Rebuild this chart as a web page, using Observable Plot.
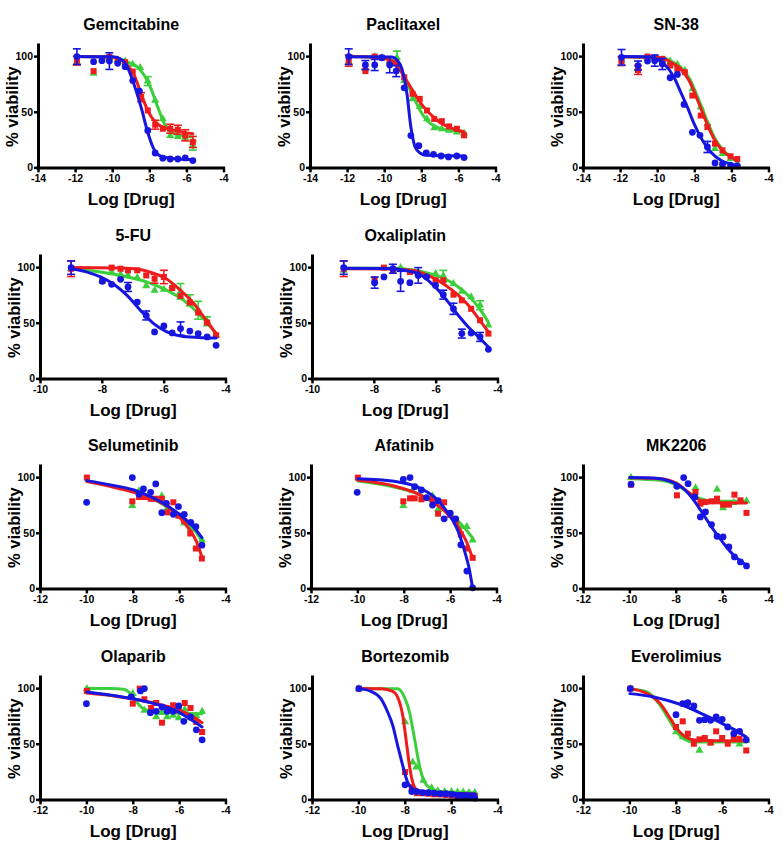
<!DOCTYPE html>
<html><head><meta charset="utf-8">
<script src="https://cdn.jsdelivr.net/npm/d3@7"></script>
<script src="https://cdn.jsdelivr.net/npm/@observablehq/plot@0.6"></script>
<style>
html,body{margin:0;padding:0;background:#fff;}
#chart{position:relative;width:783px;height:848px;overflow:hidden;background:#fff;}
#chart svg{position:absolute;overflow:visible;}
</style></head>
<body><div id="chart"></div>
<script>
// ---------- tick labels ----------
const ticks14 = [-14, -12, -10, -8, -6, -4];
const ticks10 = [-10, -8, -6, -4];
const ticks12 = [-12, -10, -8, -6, -4];
const yTicks = [0, 50, 100];

// ---------- data: [logDose, %viability, sd] ----------
const gemBlue = [[-11.93,100,7],[-11.03,95.5,2],[-10.58,96.4,3],[-10.18,96,7.5],[-9.73,94,2],[-9.33,91,2],[-8.92,78.5,2],[-8.56,69,2],[-8.11,33.7,2],[-7.71,13.4,3],[-7.3,8.7,3],[-6.9,8,2],[-6.49,8,2],[-6.09,9,2],[-5.68,6.6,2]];
const gemRed = [[-11.93,96.4,4],[-11.03,87,3],[-10.18,100,3],[-9.73,97,2],[-9.33,95,2],[-8.92,86.6,3],[-8.47,63.6,4],[-8.11,51.6,3],[-7.71,38.8,4],[-7.3,35.2,3],[-6.9,35.2,4],[-6.49,34.3,4],[-6.09,29.3,5],[-5.68,23.3,5]];
const gemGreen = [[-11.93,95,3],[-11.03,85,3],[-10.18,99,3],[-9.73,97,2],[-9.33,96,2],[-8.92,93,2],[-8.52,90,3],[-8.11,78,4],[-7.71,60.6,3],[-7.3,44,3],[-6.9,29,3],[-6.49,28,3],[-6.09,27,3],[-5.68,20,4]];
const gemBlueFit = [[-12,100],[-10,99.8],[-9.5,97],[-9.19,90],[-8.83,74],[-8.47,54.6],[-8.11,32],[-7.84,19],[-7.57,12],[-7.2,9.5],[-6.5,8],[-5.68,7.5]];
const gemRedFit = [[-12,100],[-10,99.5],[-9.5,96.5],[-9.19,92],[-8.83,83],[-8.47,66.6],[-8.11,51.6],[-7.75,42],[-7.39,37.3],[-6.67,33.7],[-5.68,30.7]];
const gemGreenFit = [[-12,100],[-10,99.5],[-9.19,95],[-8.65,90.4],[-8.29,83],[-7.93,71],[-7.57,54.6],[-7.21,39.7],[-6.85,32],[-6.3,29],[-5.68,27.8]];

const pacBlue = [[-11.94,100,7],[-11.04,92.5,4],[-10.54,92.5,5],[-10.15,99,2],[-9.73,92.5,7],[-9.38,87,5],[-8.95,72,3],[-8.59,29,3],[-8.16,20,2],[-7.76,13.4,2],[-7.37,12.2,2],[-6.96,10.7,2],[-6.56,9.9,2],[-6.11,10.7,2],[-5.72,9.3,2]];
const pacRed = [[-11.94,96.4,5],[-11.04,87,2],[-10.54,100,2],[-10.15,99,2],[-9.73,95,2],[-9.38,94,3],[-8.95,81.5,3],[-8.5,66.6,3],[-8.11,62,2],[-7.72,51.6,2],[-7.33,44,2],[-6.92,42,2],[-6.53,37.3,2],[-6.11,35.2,2],[-5.72,29.3,3]];
const pacGreen = [[-11.94,95,3],[-11.04,89,2],[-10.54,100,2],[-10.15,99,2],[-9.73,96,2],[-9.34,99,6],[-8.95,78.5,3],[-8.5,62,2],[-8.11,55,2],[-7.72,44,2],[-7.33,36,2],[-6.92,35,2],[-6.53,33.7,2],[-6.11,32.2,2],[-5.72,31.3,2]];
const pacBlueFit = [[-12,100],[-9.6,99.7],[-9.34,97],[-9.07,89],[-8.8,66.6],[-8.59,36.7],[-8.36,18.8],[-8.1,13.4],[-7.73,11.3],[-5.72,10.7]];
const pacRedFit = [[-12,100],[-10.5,99.5],[-9.7,97],[-9.34,92],[-8.98,83],[-8.62,73],[-8.27,63.6],[-7.91,55],[-7.37,45.7],[-6.84,39],[-6.3,35.2],[-5.72,32.2]];
const pacGreenFit = [[-12,100],[-10.2,99.7],[-9.52,95.8],[-9.16,89],[-8.8,76],[-8.44,63.6],[-8.09,51.6],[-7.73,42.7],[-7.19,36.7],[-6.47,33.7],[-5.72,32.8]];

const snBlue = [[-11.95,99.4,7],[-11.06,92,4],[-10.55,96,2],[-10.16,96.4,5],[-9.75,93.4,5],[-9.33,81,2],[-8.94,84,2],[-8.58,57,2],[-8.13,32,2],[-7.72,29.3,2],[-7.32,18.8,5],[-6.91,4.5,2],[-6.51,3.3,2],[-6.07,2.4,2],[-5.71,1.8,2]];
const snRed = [[-11.95,96,4],[-11.06,88,4],[-10.55,100,3],[-10.16,99,2],[-9.75,98,2],[-9.33,92,2],[-8.94,89,2],[-8.54,86,2],[-8.13,65,2],[-7.68,47,3],[-7.32,36.7,3],[-6.91,21.8,2],[-6.51,15.8,2],[-6.07,10.4,2],[-5.71,8,2]];
const snGreen = [[-11.95,97,3],[-11.06,90,3],[-10.55,99,2],[-10.16,98,2],[-9.75,97,2],[-9.33,96,2],[-8.94,93,2],[-8.54,87.5,2],[-8.13,71,2],[-7.68,54.6,3],[-7.32,39.7,3],[-6.91,17.3,3],[-6.51,12.8,2],[-6.07,8.4,2],[-5.71,3.9,2]];
const snBlueFit = [[-12,100],[-10.5,99.8],[-10.19,98.8],[-9.65,93.4],[-9.12,81.5],[-8.76,68],[-8.4,54.6],[-8.04,39.7],[-7.59,24.8],[-7.14,14.3],[-6.6,6.9],[-5.71,2.4]];
const snRedFit = [[-12,100],[-9.8,99],[-9.3,95],[-8.76,89],[-8.31,78.5],[-7.95,65],[-7.59,50],[-7.23,35.2],[-6.87,23.3],[-6.42,14.3],[-5.71,6.9]];
const snGreenFit = [[-12,100],[-9.8,99.2],[-9.3,96],[-8.76,90.5],[-8.31,81],[-7.95,68],[-7.59,53],[-7.23,38],[-6.87,25],[-6.42,15],[-5.71,6]];

const fuBlue = [[-9.01,100,6],[-8,87.7,2],[-7.7,85,2],[-7.41,89.5,2],[-7.17,82.6,4],[-6.87,69,2],[-6.58,57,4],[-6.31,42.2,2],[-6.01,47.6,2],[-5.74,41.3,2],[-5.47,45.2,6],[-5.17,43,2],[-4.9,40.7,2],[-4.61,37.7,2],[-4.32,30.2,2]];
const fuRed = [[-9.01,99,7],[-8,88,2],[-7.7,100,2],[-7.41,99,2],[-7.17,97.6,2],[-6.87,97.6,2],[-6.58,93,2],[-6.31,90,4],[-6.01,91.6,6],[-5.74,81.7,2],[-5.47,74.6,3],[-5.17,68.6,3],[-4.9,59.6,3],[-4.61,50.6,2],[-4.32,39.2,3]];
const fuGreen = [[-9.01,99,3],[-8,88,2],[-7.7,96,2],[-7.41,94,2],[-7.17,93,2],[-6.87,91,2],[-6.58,83.5,2],[-6.31,79.6,2],[-6.01,80.5,2],[-5.74,83.5,2],[-5.47,78.7,7],[-5.17,70.6,5],[-4.9,61.7,8],[-4.61,51.8,4],[-4.32,39,3]];
const fuBlueFit = [[-9,99],[-8.49,96],[-8.06,91.6],[-7.63,85],[-7.2,75],[-6.77,61.7],[-6.34,49.7],[-5.91,42.2],[-5.47,38.6],[-4.9,37.3],[-4.32,36.8]];
const fuRedFit = [[-9,100],[-7.5,99.7],[-6.98,99],[-6.44,96],[-5.91,89.5],[-5.47,79.6],[-5.04,67.7],[-4.72,55.7],[-4.32,40.7]];
const fuGreenFit = [[-9,99],[-8.06,96],[-7.2,91.6],[-6.55,87],[-5.91,79.6],[-5.37,70.6],[-4.83,57],[-4.32,40.7]];

const oxBlue = [[-8.99,100,6],[-7.99,86.5,5],[-7.69,91.6,2],[-7.4,99,4],[-7.15,87.7,9],[-6.85,86.5,3],[-6.58,93,7],[-6.31,91.6,2],[-6.02,84,3],[-5.77,75.7,4],[-5.44,63,5],[-5.17,40.7,4],[-4.87,41.2,2],[-4.58,37.7,4],[-4.31,26.6,2]];
const oxRed = [[-8.99,99,7],[-7.99,89.5,2],[-7.69,100,3],[-7.4,97.6,2],[-6.85,96,2],[-6.58,94.6,2],[-6.02,88.6,2],[-5.77,88.6,3],[-5.44,75.7,2],[-5.17,70.6,2],[-4.87,63,2],[-4.58,52.7,3],[-4.31,40.7,3]];
const oxGreen = [[-8.99,97.6,3],[-7.99,88,2],[-7.15,100,2],[-6.58,96,2],[-6.02,94.6,2],[-5.77,92.5,5],[-5.44,85.6,2],[-5.17,78.7,2],[-4.87,73.6,2],[-4.58,66.2,4],[-4.31,48.2,3]];
const oxBlueFit = [[-9,99.5],[-7.5,99.2],[-7,97.5],[-6.58,94.6],[-6.26,88.6],[-5.93,79.6],[-5.61,69],[-5.28,57],[-4.96,46.7],[-4.63,37.7],[-4.31,28.7]];
const oxRedFit = [[-9,99],[-7.5,98.7],[-6.8,97.6],[-6.26,93],[-5.72,84.7],[-5.28,75],[-4.96,66.2],[-4.63,54.2],[-4.31,42.2]];
const oxGreenFit = [[-9,99.5],[-7.3,99.5],[-6.8,98],[-6.26,95],[-5.72,90],[-5.28,82.6],[-4.96,75],[-4.63,64.4],[-4.31,51]];

const selBlue = [[-10.01,77.8],[-8.04,100],[-7.75,85],[-7.56,89.8],[-7.25,86.8],[-7.03,94.3],[-6.77,68.5],[-6.57,76.9],[-6.27,67],[-6.05,73.9],[-5.8,67],[-5.52,59.8],[-5.3,55.9],[-5.04,39.3]];
const selRed = [[-10,100],[-8.04,78.7],[-7.75,82.6],[-7.5,82.6],[-7.25,81],[-7.03,81],[-6.77,81],[-6.52,68.8],[-6.27,77.8],[-6.05,65.8],[-5.8,61],[-5.54,49.8],[-5.3,36.3],[-5.04,27.3]];
const selGreen = [[-8.04,74.8],[-7.75,88],[-6.77,83.5],[-6.52,73],[-5.8,59],[-5.52,54.4],[-5.04,44]];
const selBlueFit = [[-10,97.3],[-8.97,93.4],[-7.97,88.9],[-7.25,82.9],[-6.53,74.8],[-5.8,63.4],[-5.37,55],[-5.04,46]];
const selRedFit = [[-10,96.4],[-8.97,91.9],[-7.97,86.8],[-7.25,82],[-6.53,73.9],[-6.1,66.4],[-5.67,55.9],[-5.3,43.8],[-5.04,28.8]];
const selGreenFit = [[-10,96.8],[-8.97,92.8],[-7.97,87.5],[-7.25,81.5],[-6.53,73.5],[-5.8,61.5],[-5.37,53],[-5.04,43]];

const afaBlue = [[-10.03,86.8],[-8.04,98.5],[-7.75,100],[-7.55,91.9],[-7.26,88.9],[-7.04,82],[-6.78,75.4],[-6.54,79.3],[-6.28,63],[-6.02,68],[-5.78,63],[-5.56,39.6],[-5.3,16],[-5.05,1]];
const afaRed = [[-10,100],[-8.04,78.7],[-7.75,81.4],[-7.55,81.4],[-7.26,80.5],[-6.78,80.5],[-6.54,67.6],[-6.28,77.8],[-6.02,66.4],[-5.78,60.4],[-5.56,49],[-5.3,36.3],[-5.05,27.9]];
const afaGreen = [[-8.04,74.8],[-7.65,88],[-6.78,83.5],[-6.54,71.5],[-5.56,55.9],[-5.3,55.9],[-5.05,43.8]];
const afaBlueFit = [[-10,99.1],[-8.44,96.7],[-7.43,91.6],[-6.71,82.6],[-6.14,69],[-5.7,53],[-5.41,34.8],[-5.2,18.3],[-5.05,0.3]];
const afaRedFit = [[-10,97.6],[-8.44,92.5],[-7.43,85.6],[-6.71,77.5],[-6.14,67.6],[-5.7,57],[-5.34,43.5],[-5.05,27.6]];
const afaGreenFit = [[-10,97],[-8.44,91.6],[-7.43,85.6],[-6.71,77.5],[-6.14,69],[-5.56,58.6],[-5.05,45.7]];

const mkBlue = [[-9.95,94],[-7.97,92.2],[-7.68,100],[-7.49,94.6],[-7.2,82.6],[-6.96,64.7],[-6.74,69.2],[-6.48,57.8],[-6.24,47.3],[-5.98,46.7],[-5.73,37.7],[-5.49,28.7],[-5.23,24.2],[-4.97,20.6]];
const mkRed = [[-9.95,93.7],[-7.97,84.1],[-7.17,87],[-6.96,76.6],[-6.74,78],[-6.48,78.7],[-6.24,81.1],[-5.98,75.7],[-5.73,75.7],[-5.49,84.7],[-5.23,79.6],[-4.97,68.3]];
const mkGreen = [[-9.95,100],[-7.97,93],[-7.17,90.7],[-6.24,89.5],[-5.98,72.8],[-5.52,77.5],[-4.97,79]];
const mkBlueFit = [[-10,100],[-8.97,99.7],[-8.25,96.7],[-7.68,90],[-7.24,79.6],[-6.81,66.2],[-6.38,52.7],[-5.95,40.7],[-5.52,30.2],[-4.97,21.2]];
const mkRedFit = [[-10,100],[-8.69,99],[-7.97,94.6],[-7.39,85.6],[-6.96,79.6],[-6.38,77.5],[-4.97,77.2]];
const mkGreenFit = [[-10,99],[-8.69,97.6],[-7.97,93],[-7.39,85.6],[-6.96,81],[-6.38,78.7],[-4.97,78.7]];

const olaBlue = [[-10.02,86.5],[-8.09,92.5],[-7.69,97.9],[-7.52,100],[-7.26,78.4],[-7.01,79.6],[-6.76,83.5],[-6.54,79.6],[-6.28,79.6],[-6.04,84.4],[-5.82,70.6],[-5.53,74.5],[-5.28,63],[-5.03,54]];
const olaRed = [[-10,97.9],[-8.02,86.5],[-7.72,100],[-7.52,90.4],[-7.23,82.6],[-7.01,87.1],[-6.76,69.4],[-6.28,85],[-6.04,80.5],[-5.78,87.1],[-5.53,82.6],[-5.28,70],[-5.03,61]];
const olaGreen = [[-10,100],[-8.02,95.5],[-7.52,80.5],[-7.01,74.5],[-6.76,78.4],[-6.54,74.5],[-6.28,76],[-6.04,73.6],[-5.78,81.4],[-5.53,73.6],[-5.28,75.4],[-5.03,79.6]];
const olaBlueFit = [[-10,97],[-8.7,93.4],[-7.69,89.5],[-6.83,85],[-6.11,79.6],[-5.53,72.4],[-5.03,65.5]];
const olaRedFit = [[-10,96],[-8.7,93],[-7.69,89.5],[-6.83,85.6],[-6.11,81.4],[-5.53,76],[-5.03,69.4]];
const olaGreenFit = [[-10,100],[-8.98,100],[-8.41,99.4],[-8.05,94],[-7.76,85.6],[-7.4,80.5],[-6.54,78.4],[-5.03,77.5]];

const bortBlue = [[-10,100],[-8.01,13.5],[-7.72,7.5],[-7.5,7.5],[-7.25,6.5],[-7,6.5],[-6.75,6],[-6.5,5.5],[-6.25,5.5],[-6,5],[-5.75,4],[-5.5,3],[-5.25,2.5],[-5,1.5]];
const bortRed = [[-10,100],[-8.01,25],[-7.72,11.4],[-7.5,6],[-7.25,6],[-7,5.5],[-6.75,5],[-6.5,5],[-6.25,4.5],[-6,4],[-5.75,3.5],[-5.5,3.5],[-5.25,3],[-5,3]];
const bortGreen = [[-10,100],[-8.01,70],[-7.68,34],[-7.53,29.4],[-7.22,17.4],[-6.86,10.8],[-6.6,8],[-6.3,7.5],[-6,7.5],[-5.75,7],[-5.5,7],[-5.25,6.5],[-5,6.5]];
const bortBlueFit = [[-10,100],[-9.48,97.6],[-9.05,91],[-8.76,79],[-8.54,67],[-8.33,49],[-8.11,31],[-7.9,16],[-7.68,10],[-7.32,7.8],[-4.98,5.4]];
const bortRedFit = [[-10,100],[-9.03,99.8],[-8.54,97.6],[-8.33,92.5],[-8.11,76],[-7.97,55],[-7.82,31],[-7.68,16],[-7.46,8.4],[-7.03,6.9],[-5,5.4]];
const bortGreenFit = [[-10,100],[-8.33,99.8],[-8.04,92.5],[-7.82,79],[-7.6,55],[-7.39,31],[-7.17,16],[-6.88,10],[-6.45,7.5],[-5,6.3]];

const everBlue = [[-9.98,100],[-8.01,76.6],[-7.72,86.5],[-7.5,87.4],[-7.24,84.4],[-7,71.5],[-6.77,72.1],[-6.52,71.5],[-6.28,74.5],[-6.02,72.4],[-5.78,65.5],[-5.52,59.5],[-5.27,61.6],[-4.98,54]];
const everRed = [[-9.98,100],[-8.01,65.5],[-7.72,70.6],[-7.5,59.5],[-7.24,50.5],[-7,54.4],[-6.77,55.6],[-6.52,51.4],[-6.28,61.6],[-6.02,55.6],[-5.78,50.5],[-5.52,55],[-5.27,55],[-4.98,44.4]];
const everGreen = [[-9.98,100],[-8.01,61],[-7.72,56.5],[-7.5,55],[-7,44.4],[-6.52,51.4],[-6.02,53.5],[-5.52,53.5],[-5.27,50],[-4.98,53.5]];
const everBlueFit = [[-10,95.5],[-8.97,92.5],[-8.25,88.6],[-7.53,83.5],[-6.81,76.6],[-6.09,69.4],[-5.52,63.4],[-4.98,56.5]];
const everRedFit = [[-10,100],[-9.26,95.5],[-8.69,86.5],[-8.25,73],[-7.97,64],[-7.6,56.5],[-7.1,53.5],[-4.98,52.9]];
const everGreenFit = [[-10,100],[-9.26,97],[-8.69,85],[-8.25,70],[-7.97,61],[-7.69,55],[-7.24,52],[-4.98,52]];

// ---------- styling ----------
const GREEN = "#3ccf3c", RED = "#ee1c1c", BLUE = "#1616e0";
const FONT = "'Liberation Sans', Arial, Helvetica, sans-serif";

const panels = [
  {title: "Gemcitabine", ox: 37.7, oy: 167.7, domain: [-14, -4], ticks: ticks14, err: true,
   series: [[gemGreen, gemGreenFit, GREEN, "triangle"], [gemRed, gemRedFit, RED, "square"], [gemBlue, gemBlueFit, BLUE, "circle"]]},
  {title: "Paclitaxel", ox: 310, oy: 167.7, domain: [-14, -4], ticks: ticks14, err: true,
   series: [[pacGreen, pacGreenFit, GREEN, "triangle"], [pacRed, pacRedFit, RED, "square"], [pacBlue, pacBlueFit, BLUE, "circle"]]},
  {title: "SN-38", ox: 582.7, oy: 167.7, domain: [-14, -4], ticks: ticks14, err: true,
   series: [[snGreen, snGreenFit, GREEN, "triangle"], [snRed, snRedFit, RED, "square"], [snBlue, snBlueFit, BLUE, "circle"]]},
  {title: "5-FU", ox: 40, oy: 378.7, domain: [-10, -4], ticks: ticks10, err: true,
   series: [[fuGreen, fuGreenFit, GREEN, "triangle"], [fuRed, fuRedFit, RED, "square"], [fuBlue, fuBlueFit, BLUE, "circle"]]},
  {title: "Oxaliplatin", ox: 311.7, oy: 378.7, domain: [-10, -4], ticks: ticks10, err: true,
   series: [[oxGreen, oxGreenFit, GREEN, "triangle"], [oxRed, oxRedFit, RED, "square"], [oxBlue, oxBlueFit, BLUE, "circle"]]},
  {title: "Selumetinib", ox: 40, oy: 588.7, domain: [-12, -4], ticks: ticks12, err: false,
   series: [[selGreen, selGreenFit, GREEN, "triangle"], [selRed, selRedFit, RED, "square"], [selBlue, selBlueFit, BLUE, "circle"]]},
  {title: "Afatinib", ox: 311, oy: 588.7, domain: [-12, -4], ticks: ticks12, err: false,
   series: [[afaGreen, afaGreenFit, GREEN, "triangle"], [afaRed, afaRedFit, RED, "square"], [afaBlue, afaBlueFit, BLUE, "circle"]]},
  {title: "MK2206", ox: 583.3, oy: 588.7, domain: [-12, -4], ticks: ticks12, err: false,
   series: [[mkGreen, mkGreenFit, GREEN, "triangle"], [mkRed, mkRedFit, RED, "square"], [mkBlue, mkBlueFit, BLUE, "circle"]]},
  {title: "Olaparib", ox: 40, oy: 799.3, domain: [-12, -4], ticks: ticks12, err: false,
   series: [[olaGreen, olaGreenFit, GREEN, "triangle"], [olaRed, olaRedFit, RED, "square"], [olaBlue, olaBlueFit, BLUE, "circle"]]},
  {title: "Bortezomib", ox: 311.7, oy: 799.3, domain: [-12, -4], ticks: ticks12, err: false,
   series: [[bortGreen, bortGreenFit, GREEN, "triangle"], [bortRed, bortRedFit, RED, "square"], [bortBlue, bortBlueFit, BLUE, "circle"]]},
  {title: "Everolimius", ox: 583.3, oy: 799.3, domain: [-12, -4], ticks: ticks12, err: false,
   series: [[everGreen, everGreenFit, GREEN, "triangle"], [everRed, everRedFit, RED, "square"], [everBlue, everBlueFit, BLUE, "circle"]]}
];

const ML = 38, MR = 22, MT = 44, MB = 46, IW = 185.5, IH = 122.4;
const W = ML + IW + MR, H = MT + IH + MB;
const R = {circle: 3.4, square: 3.4, triangle: 3.0};

const capSymbol = {draw(ctx) { ctx.moveTo(-4, 0); ctx.lineTo(4, 0); }};

const chart = document.getElementById("chart");

for (const p of panels) {
  const marks = [];
  for (const [pts, fit, color, sym] of p.series) {
    if (p.err) {
      const eb = pts.filter(d => d[2] >= 3.5);
      marks.push(Plot.ruleX(eb, {x: d => d[0], y1: d => d[1] - d[2], y2: d => d[1] + d[2], stroke: color, strokeWidth: 1.6}));
      marks.push(Plot.dot(eb, {x: d => d[0], y: d => d[1] + d[2], symbol: capSymbol, fill: "none", stroke: color, strokeWidth: 1.6}));
      marks.push(Plot.dot(eb, {x: d => d[0], y: d => d[1] - d[2], symbol: capSymbol, fill: "none", stroke: color, strokeWidth: 1.6}));
    }
    marks.push(Plot.line(fit, {x: d => d[0], y: d => d[1], stroke: color, strokeWidth: 3, curve: "monotone-x"}));
    marks.push(Plot.dot(pts, {x: d => d[0], y: d => d[1], symbol: sym, r: R[sym], fill: color, stroke: "none"}));
  }
  const svg = Plot.plot({
    width: W, height: H,
    marginLeft: ML, marginRight: MR, marginTop: MT, marginBottom: MB,
    x: {domain: p.domain},
    y: {domain: [0, 110]},
    style: {fontFamily: FONT, fontWeight: "bold", color: "black", background: "transparent", overflow: "visible"},
    marks: [
      Plot.axisX({ticks: p.ticks, tickFormat: d => String(d), tickSize: 5, tickPadding: 2, strokeWidth: 2.5, fontSize: 10.5, fontWeight: "bold", label: null}),
      Plot.axisY({ticks: yTicks, tickFormat: d => String(d), tickSize: 4, tickPadding: 1.5, strokeWidth: 2.5, fontSize: 10.5, fontWeight: "bold", label: null}),
      ...marks,
      Plot.ruleY([0], {stroke: "black", strokeWidth: 3, strokeLinecap: "square"}),
      Plot.ruleX([p.domain[0]], {stroke: "black", strokeWidth: 3, strokeLinecap: "square"}),
      Plot.text([p.title], {text: d => d, frameAnchor: "top", dy: -21, lineAnchor: "middle", fontSize: 16, fontWeight: "bold"}),
      Plot.text(["Log [Drug]"], {text: d => d, frameAnchor: "bottom", dy: 32, lineAnchor: "middle", fontSize: 17, fontWeight: "bold"}),
      Plot.text(["% viability"], {text: d => d, frameAnchor: "left", dx: -26, rotate: -90, lineAnchor: "middle", textAnchor: "middle", fontSize: 16.5, fontWeight: "bold"})
    ]
  });
  svg.style.left = (p.ox - ML) + "px";
  svg.style.top = (p.oy - MT - IH) + "px";
  chart.appendChild(svg);
}
</script>
</body></html>
